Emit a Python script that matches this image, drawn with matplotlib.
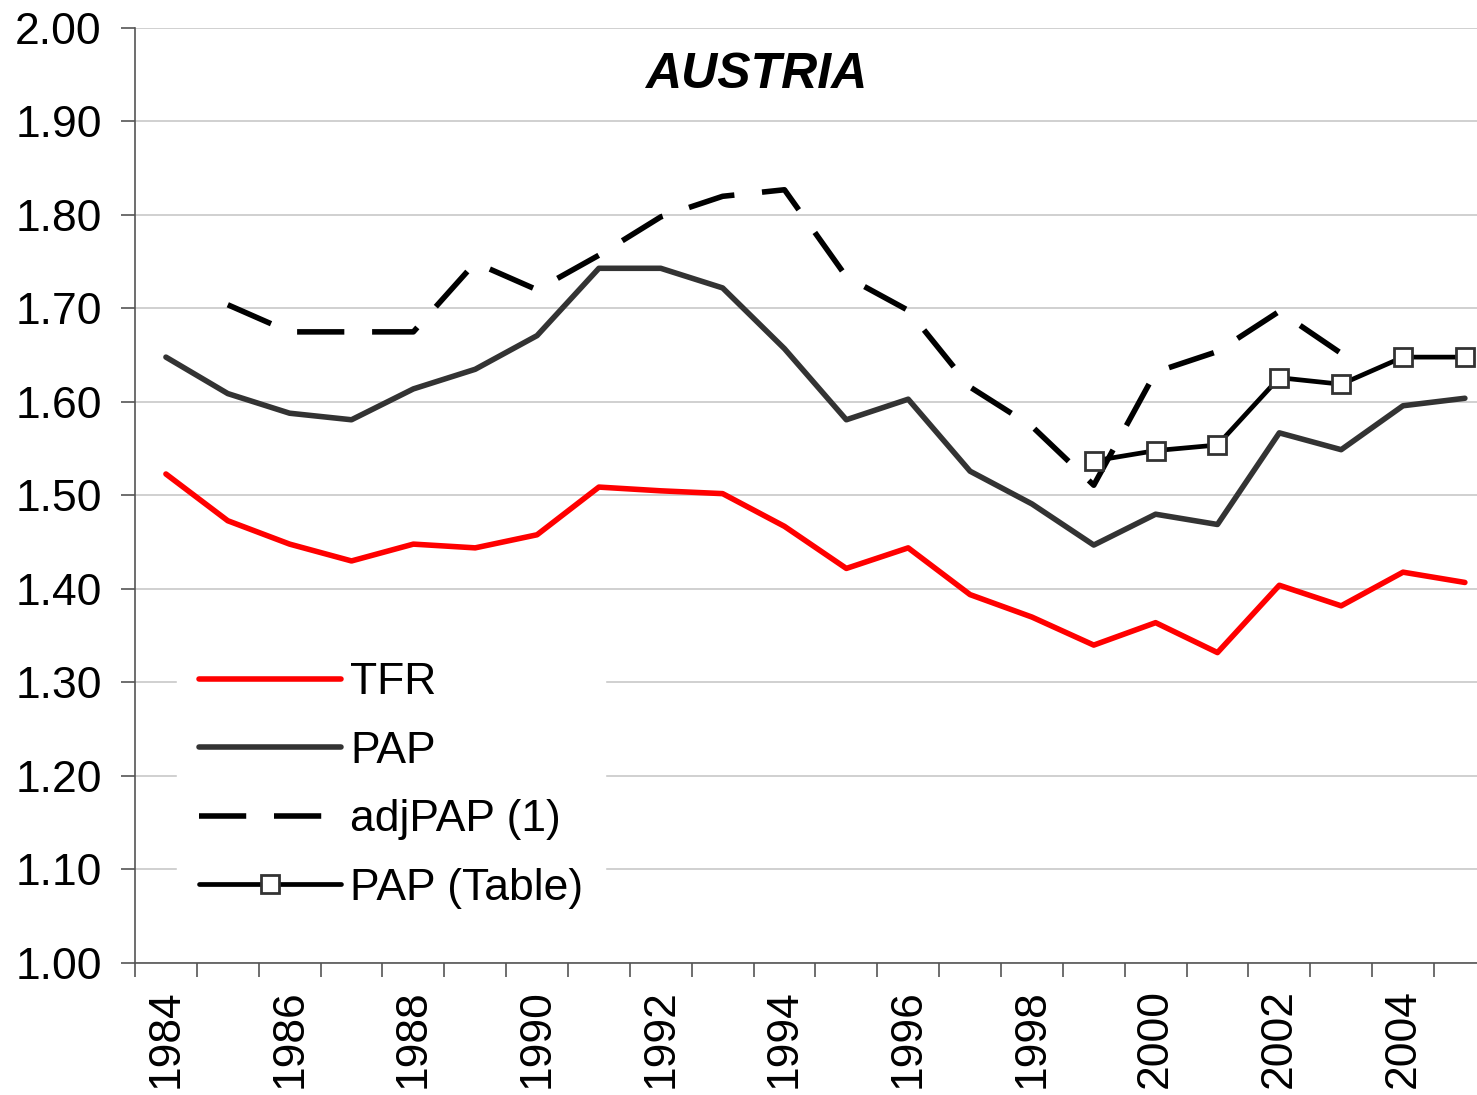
import numpy as np
import matplotlib
matplotlib.use("Agg")
import matplotlib.pyplot as plt

plt.rcParams['font.family'] = ['Liberation Sans', 'DejaVu Sans']

years = list(range(1984, 2006))
tfr = [1.523, 1.473, 1.448, 1.430, 1.448, 1.444, 1.458, 1.509, 1.505, 1.502, 1.467,
       1.422, 1.444, 1.394, 1.370, 1.340, 1.364, 1.332, 1.404, 1.382, 1.418, 1.407]
pap = [1.648, 1.609, 1.588, 1.581, 1.614, 1.635, 1.671, 1.743, 1.743, 1.722, 1.657,
       1.581, 1.603, 1.526, 1.491, 1.447, 1.480, 1.469, 1.567, 1.549, 1.596, 1.604]
adj_pap = [np.nan, 1.704, 1.675, 1.675, 1.675, 1.749, 1.720, 1.757, 1.798, 1.820, 1.827,
           1.734, 1.698, 1.616, 1.574, 1.511, 1.632, 1.654, 1.697, 1.652, np.nan, np.nan]
pap_table = [np.nan] * 15 + [1.537, 1.548, 1.554, 1.626, 1.619, 1.648, 1.648]
labels = ["TFR", "PAP", "adjPAP (1)", "PAP (Table)"]

fig = plt.figure(figsize=(14.77, 10.95), dpi=100)
ax = fig.add_axes([135 / 1477, 132 / 1095, 1 - 135 / 1477, (1067 - 132) / 1095])

x = np.arange(len(years))
ax.plot(x, tfr, color="#ff0000", lw=4.0, solid_capstyle="round", solid_joinstyle="round", label=labels[0], zorder=3)
ax.plot(x, pap, color="#333333", lw=4.0, solid_capstyle="round", solid_joinstyle="round", label=labels[1], zorder=3)
ax.plot(x, adj_pap, color="black", lw=4.0, dashes=(8.5, 5.0), label=labels[2], zorder=3)
ax.plot(x, pap_table, color="black", lw=3.4, marker="s", ms=13, mfc="white", mec="#333333", mew=2.0,
        solid_capstyle="round", label=labels[3], zorder=4)

ax.set_ylim(1.0, 2.0)
ax.set_yticks(np.arange(1.0, 2.001, 0.1))
ax.set_yticklabels(["%.2f" % v for v in np.arange(1.0, 2.001, 0.1)])
ax.set_xlim(-0.5, 20.5 + 43 / 61.8)

ax.set_xticks(x[::2])
ax.set_xticklabels([str(y) for y in years[::2]], rotation=90, fontsize=32)
ax.set_xticks(np.arange(-0.5, 21, 1), minor=True)
ax.tick_params(axis="x", which="major", length=0, pad=19)
ax.tick_params(axis="x", which="minor", length=10, width=1.2, color="#555555", direction="out")
ax.tick_params(axis="y", which="major", length=10, width=1.2, color="#555555", labelsize=32, pad=14)

ax.grid(axis="y", color="#c8c8c8", lw=1.2, zorder=0)
ax.set_axisbelow(True)
for s in ["top", "right"]:
    ax.spines[s].set_visible(False)
for s in ["left", "bottom"]:
    ax.spines[s].set_color("#555555")
    ax.spines[s].set_linewidth(1.2)

ax.text(0.463, 0.950, "AUSTRIA", transform=ax.transAxes, ha="center", va="center",
        fontsize=36, fontweight="bold", fontstyle="italic")

leg = ax.legend(loc="lower left", bbox_to_anchor=(0.031, 0.034), borderaxespad=0, fontsize=32,
                frameon=True, handlelength=3.2, handletextpad=0.2, labelspacing=0.62, borderpad=0.5)
leg.get_frame().set_facecolor("white")
leg.get_frame().set_edgecolor("white")
leg.get_frame().set_alpha(1.0)
leg.get_frame().set_boxstyle("square", pad=0)

fig.savefig("out.png", dpi=100)
